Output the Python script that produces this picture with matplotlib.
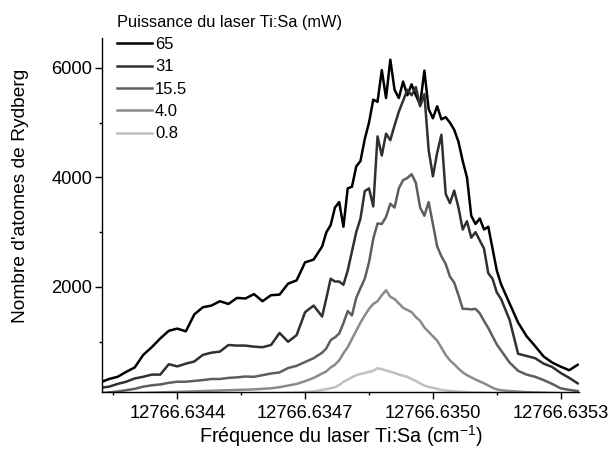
import matplotlib
matplotlib.use('Agg')
import matplotlib.pyplot as plt
from matplotlib.ticker import FixedLocator, FormatStrFormatter

plt.rcParams['font.family'] = ['Liberation Sans', 'DejaVu Sans']
plt.rcParams['mathtext.fontset'] = 'custom'
plt.rcParams['mathtext.rm'] = 'Liberation Sans'
plt.rcParams['mathtext.it'] = 'Liberation Sans:italic'

# scan frequency (cm^-1), finer sampling across the line centre
freq = [
    12766.63422, 12766.63424, 12766.63426, 12766.63428, 12766.63430, 12766.63432,
    12766.63434, 12766.63436, 12766.63438, 12766.63440, 12766.63442, 12766.63444,
    12766.63446, 12766.63448, 12766.63450, 12766.63452, 12766.63454, 12766.63456,
    12766.63458, 12766.63460, 12766.63462, 12766.63464, 12766.63466, 12766.63468,
    12766.63470, 12766.63472, 12766.63474,
    12766.63475, 12766.63476, 12766.63477, 12766.63478, 12766.63479, 12766.63480,
    12766.63481, 12766.63482, 12766.63483, 12766.63484, 12766.63485, 12766.63486,
    12766.63487, 12766.63488, 12766.63489, 12766.63490, 12766.63491, 12766.63492,
    12766.63493, 12766.63494, 12766.63495, 12766.63496, 12766.63497, 12766.63498,
    12766.63499, 12766.63500, 12766.63501, 12766.63502, 12766.63503, 12766.63504,
    12766.63505, 12766.63506, 12766.63507, 12766.63508, 12766.63509, 12766.63510,
    12766.63511, 12766.63512, 12766.63513, 12766.63514, 12766.63515, 12766.63516,
    12766.63518, 12766.63520, 12766.63522, 12766.63524, 12766.63526, 12766.63528,
    12766.63530, 12766.63532, 12766.63534,
]

# Rydberg atom counts for each Ti:Sa power
n_65 = [
    260, 320, 360, 450, 530, 760, 900, 1060, 1200, 1240, 1190, 1500, 1630, 1660,
    1740, 1690, 1800, 1790, 1870, 1740, 1850, 1860, 2060, 2120, 2450, 2500, 2740,
    3000, 3130, 3450, 3550, 3100, 3800, 3830, 4200, 4300, 4700, 5000, 5420, 5380,
    5960, 5450, 6150, 5600, 5450, 5750, 5500, 5700, 5500, 5330, 5950, 5250, 5080,
    5300, 5060, 5100, 5000, 4870, 4650, 4300, 4000, 3300, 3150, 3250, 3050, 3100,
    2700, 2300, 2050,
    1700, 1350, 1100, 920, 730, 620, 545, 480, 580,
]
n_31 = [
    160, 180, 230, 270, 330, 360, 400, 400, 590, 550, 600, 640, 760, 800,
    820, 940, 930, 930, 910, 900, 940, 1160, 1000, 1120, 1540, 1660, 1460,
    1800, 2150, 2100, 2100, 2040, 2300, 2650, 3000, 3250, 3750, 3800, 3470, 4750,
    4400, 4800, 4680, 4950, 5200, 5400, 5600, 5500, 5650, 5300, 5520, 4500, 4020,
    4450, 4780, 3700, 3530, 3760, 3450, 3050, 3200, 2900, 3000, 2850, 2700, 2250,
    2150, 1900, 1780,
    1400, 780, 740, 700, 600, 540, 430, 340, 240,
]
n_15_5 = [
    60, 75, 90, 115, 140, 180, 205, 220, 250, 270, 270, 285, 300, 320,
    320, 340, 350, 365, 360, 390, 420, 440, 520, 560, 630, 700, 800,
    880, 1030, 1080, 1150, 1340, 1560, 1480, 1800, 1980, 2150, 2450, 2880, 3160,
    3150, 3280, 3520, 3450, 3800, 3950, 3990, 4060, 3900, 3450, 3300, 3550, 3150,
    2740, 2560, 2420, 2190, 2080, 1850, 1600, 1600, 1590, 1600, 1520, 1380, 1250,
    1100, 950, 840,
    620, 470, 400, 360, 300, 230, 150, 120, 100,
]
n_4_0 = [
    40, 45, 50, 55, 60, 65, 70, 75, 80, 85, 90, 95, 100, 105,
    110, 115, 120, 125, 130, 140, 150, 170, 200, 230, 280, 340, 420,
    460, 530, 580, 660, 790, 900, 1050, 1200, 1350, 1480, 1600, 1690, 1740,
    1850, 1940, 1820, 1780, 1700, 1620, 1580, 1540, 1450, 1380, 1260, 1180, 1100,
    1020, 890, 760, 660, 590, 510, 440, 390, 350, 310, 275, 240, 200,
    160, 130, 115,
    100, 90, 80, 75, 70, 65, 60, 60, 55,
]
n_0_8 = [
    30, 30, 35, 35, 35, 40, 40, 40, 40, 45, 45, 45, 45, 50,
    50, 50, 50, 55, 55, 55, 60, 60, 65, 70, 80, 95, 120,
    135, 150, 170, 210, 270, 310, 350, 390, 410, 430, 450, 470, 515,
    500, 475, 455, 430, 400, 380, 360, 320, 285, 240, 200, 175, 160,
    140, 120, 110, 100, 95, 90, 85, 80, 75, 70, 70, 65, 65, 60,
    60, 60,
    55, 55, 50, 50, 50, 45, 45, 45, 45,
]

powers = ['65', '31', '15.5', '4.0', '0.8']
series = [n_65, n_31, n_15_5, n_4_0, n_0_8]
greys = ['#000000', '#303030', '#5e5e5e', '#8a8a8a', '#c0c0c0']

fig = plt.figure(figsize=(6.10, 4.49), dpi=100)
ax = fig.add_axes([0.1672, 0.1269, 0.7825, 0.7885])

for label, counts, col in zip(powers, series, greys):
    ax.plot(freq, counts, color=col, lw=1.8, label=label)

ax.set_xlim(12766.6342232, 12766.6353437)
ax.set_ylim(82, 6546)

ax.xaxis.set_major_locator(FixedLocator([12766.6344, 12766.6347, 12766.6350, 12766.6353]))
ax.xaxis.set_minor_locator(FixedLocator([12766.63425, 12766.63455, 12766.63485,
                                         12766.63515, 12766.63545]))
ax.xaxis.set_major_formatter(FormatStrFormatter('%.4f'))
ax.yaxis.set_major_locator(FixedLocator([2000, 4000, 6000]))
ax.yaxis.set_minor_locator(FixedLocator([1000, 3000, 5000]))

for side in ('top', 'right'):
    ax.spines[side].set_visible(False)
for side in ('left', 'bottom'):
    ax.spines[side].set_linewidth(1.0)

ax.tick_params(which='major', direction='out', length=5, width=1.0,
               labelsize=13.2, pad=2)
ax.tick_params(axis='x', which='major', pad=4)
ax.tick_params(which='minor', direction='out', length=2.5, width=1.0)

ax.set_xlabel('Fréquence du laser Ti:Sa (cm$^{-1}$)', fontsize=14.2, labelpad=1)
ax.set_ylabel("Nombre d'atomes de Rydberg", fontsize=13.8)
ax.yaxis.set_label_coords(-0.152, 0.554)

leg = ax.legend(loc='upper left', bbox_to_anchor=(0.192, 0.967),
                bbox_transform=fig.transFigure, frameon=False,
                title='Puissance du laser Ti:Sa (mW)', title_fontsize=11.8,
                fontsize=12, handlelength=2.1, handletextpad=0.18,
                labelspacing=0.44, borderpad=0, borderaxespad=0,
                alignment='left')

fig.savefig('out.png', dpi=100)
